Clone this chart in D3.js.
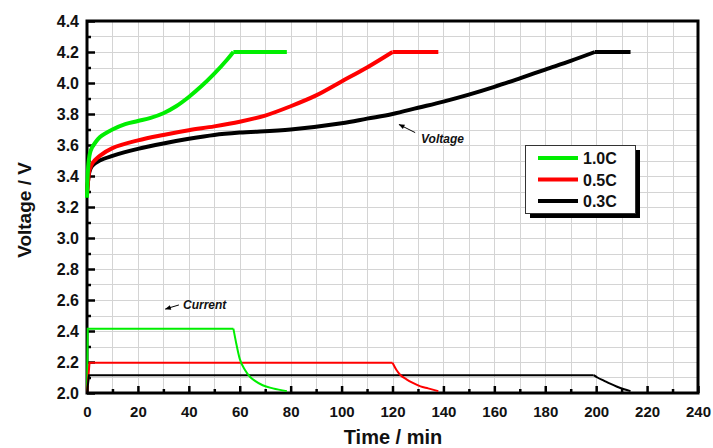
<!DOCTYPE html>
<meta charset="utf-8">
<style>
body { margin: 0; background: #fff; }
text { font-family: "Liberation Sans", Arial, sans-serif; font-weight: bold; fill: #111; }
.grid line { stroke: #d4d4d4; stroke-width: 1; shape-rendering: crispEdges; }
</style>
<body></body>
<script src="https://cdnjs.cloudflare.com/ajax/libs/d3/7.8.5/d3.min.js"></script>
<script>
// charge curves: time (min) vs voltage (V); current traces are drawn on the same voltage axis
var series = ["1.0C", "0.5C", "0.3C"];
var colors = ["#00ee00", "#ff0000", "#000000"];

// constant-current part (smooth) + constant-voltage plateau
var voltage10 = [[0,3.26],[0.3,3.42],[0.7,3.5],[1.2,3.55],[2,3.585],[3,3.61],[5,3.65],[10,3.70],[15,3.735],[20,3.755],[25,3.775],[30,3.805],[35,3.85],[40,3.91],[45,3.98],[50,4.06],[55,4.15],[57.5,4.2]];
var plateau10 = [[57.5,4.2],[78.5,4.2]];
var voltage05 = [[0,3.28],[0.5,3.38],[1,3.44],[2,3.48],[3,3.5],[5,3.53],[10,3.58],[20,3.63],[30,3.665],[40,3.695],[50,3.72],[60,3.75],[70,3.79],[80,3.85],[90,3.92],[100,4.01],[110,4.10],[120,4.2]];
var plateau05 = [[120,4.2],[138,4.2]];
var voltage03 = [[0,3.28],[0.5,3.38],[1,3.43],[2,3.465],[5,3.5],[10,3.53],[20,3.575],[30,3.61],[40,3.64],[50,3.665],[60,3.68],[80,3.70],[100,3.74],[110,3.77],[120,3.80],[130,3.84],[140,3.88],[150,3.925],[160,3.975],[170,4.03],[180,4.087],[190,4.143],[199.5,4.2]];
var plateau03 = [[199.5,4.2],[213.5,4.2]];

var current10 = [[0,2.0],[0.3,2.415],[57.5,2.415]];
var decay10 = [[57.5,2.415],[58.5,2.33],[60,2.22],[62,2.15],[64,2.105],[66,2.078],[69,2.05],[73,2.03],[78.5,2.012]];
var current05 = [[0,2.0],[1,2.195],[120,2.195]];
var decay05 = [[120,2.195],[121.5,2.15],[123,2.118],[125.5,2.088],[128,2.065],[131,2.043],[134,2.03],[138,2.012]];
var current03 = [[0,2.0],[0.8,2.115],[199,2.115]];
var decay03 = [[199,2.115],[200.5,2.1],[203,2.08],[205.5,2.06],[208,2.042],[211,2.024],[213.5,2.012]];

var width = 713, height = 448;
var x = d3.scaleLinear().domain([0, 240]).range([87, 698]);
var y = d3.scaleLinear().domain([2.0, 4.4]).range([393, 21]);

var svg = d3.select("body").append("svg")
    .attr("width", width)
    .attr("height", height);

// grid every 10 min / 0.1 V
var grid = svg.append("g").attr("class", "grid");
grid.selectAll(".gx").data(d3.range(10, 240, 10)).enter().append("line")
    .attr("x1", function(d) { return Math.round(x(d)) + 0.5; })
    .attr("x2", function(d) { return Math.round(x(d)) + 0.5; })
    .attr("y1", y(2.0)).attr("y2", y(4.4));
grid.selectAll(".gy").data(d3.range(1, 24)).enter().append("line")
    .attr("x1", x(0)).attr("x2", x(240))
    .attr("y1", function(d) { return Math.round(y(2.0 + d * 0.1)) + 0.5; })
    .attr("y2", function(d) { return Math.round(y(2.0 + d * 0.1)) + 0.5; });

// frame
svg.append("rect")
    .attr("x", x(0)).attr("y", y(4.4))
    .attr("width", x(240) - x(0)).attr("height", y(2.0) - y(4.4))
    .attr("fill", "none").attr("stroke", "#000").attr("stroke-width", 3);

// inward ticks
var xAxis = d3.axisBottom(x).tickValues(d3.range(0, 241, 10))
    .tickSize(-7).tickFormat(function(d) { return d % 20 === 0 ? d : ""; });
var gx = svg.append("g").attr("transform", "translate(0," + y(2.0) + ")").call(xAxis);
gx.select(".domain").remove();
gx.selectAll(".tick line").attr("stroke", "#000").attr("stroke-width", 2.5)
    .attr("y2", function(d) { return d % 20 === 0 ? -7 : -4; });
gx.selectAll(".tick text").attr("y", 13).attr("dy", "0.71em")
    .style("font-size", "15px").style("font-family", "Liberation Sans, Arial, sans-serif").style("font-weight", "bold").attr("fill", "#111");

var yAxis = d3.axisLeft(y).tickValues(d3.range(0, 25).map(function(i) { return 2.0 + i * 0.1; }))
    .tickSize(-8).tickFormat(function(d, i) { return i % 2 === 0 ? d3.format(".1f")(d) : ""; });
var gy = svg.append("g").attr("transform", "translate(" + x(0) + ",0)").call(yAxis);
gy.select(".domain").remove();
gy.selectAll(".tick line").attr("stroke", "#000").attr("stroke-width", 2.5)
    .attr("x2", function(d, i) { return i % 2 === 0 ? 8 : 4; });
gy.selectAll(".tick text").attr("x", -8)
    .style("font-size", "16px").style("font-family", "Liberation Sans, Arial, sans-serif").style("font-weight", "bold").attr("fill", "#111");

// curves
var smooth = d3.line()
    .x(function(d) { return x(d[0]); })
    .y(function(d) { return y(d[1]); })
    .curve(d3.curveMonotoneX);
var rounded = d3.line()
    .x(function(d) { return x(d[0]); })
    .y(function(d) { return y(d[1]); })
    .curve(d3.curveCatmullRom.alpha(0.5));
var straight = d3.line()
    .x(function(d) { return x(d[0]); })
    .y(function(d) { return y(d[1]); });

var cur = svg.append("g").attr("fill", "none").attr("stroke-width", 2);
[current10, current05, current03].forEach(function(d, i) {
  cur.append("path").attr("d", straight(d)).attr("stroke", colors[i]);
});
[decay10, decay05, decay03].forEach(function(d, i) {
  cur.append("path").attr("d", smooth(d)).attr("stroke", colors[i]);
});

var volt = svg.append("g").attr("fill", "none").attr("stroke-width", 4)
    .attr("stroke-linejoin", "round");
[[voltage03, plateau03, 2], [voltage05, plateau05, 1], [voltage10, plateau10, 0]].forEach(function(s) {
  volt.append("path").attr("d", rounded(s[0])).attr("stroke", colors[s[2]]);
  volt.append("path").attr("d", straight(s[1])).attr("stroke", colors[s[2]]);
});

// annotations
var defs = svg.append("defs");
defs.append("marker").attr("id", "arr")
    .attr("viewBox", "0 0 10 10").attr("refX", 9).attr("refY", 5)
    .attr("markerWidth", 7).attr("markerHeight", 6).attr("orient", "auto")
  .append("path").attr("d", "M0,1 L10,5 L0,9 Z").attr("fill", "#000");

svg.append("line")
    .attr("x1", x(128.9)).attr("y1", y(3.68)).attr("x2", x(122.6)).attr("y2", y(3.732))
    .attr("stroke", "#000").attr("stroke-width", 1).attr("marker-end", "url(#arr)");
svg.append("text").attr("x", x(131.2)).attr("y", y(3.61))
    .style("font-size", "12px").style("font-style", "italic").text("Voltage");

svg.append("line")
    .attr("x1", x(36.1)).attr("y1", y(2.568)).attr("x2", x(30.8)).attr("y2", y(2.542))
    .attr("stroke", "#000").attr("stroke-width", 1).attr("marker-end", "url(#arr)");
svg.append("text").attr("x", x(37.7)).attr("y", y(2.542))
    .style("font-size", "12px").style("font-style", "italic").text("Current");

// axis titles
svg.append("text").attr("x", 393).attr("y", 444)
    .attr("text-anchor", "middle").style("font-size", "20px").text("Time / min");
svg.append("text").attr("transform", "translate(31,210) rotate(-90)")
    .attr("text-anchor", "middle").style("font-size", "19px").text("Voltage / V");

// legend
var lg = svg.append("g").attr("transform", "translate(525,145)");
lg.append("rect").attr("x", 5).attr("y", 5).attr("width", 110).attr("height", 68).attr("fill", "#000");
lg.append("rect").attr("x", 0.5).attr("y", 0.5).attr("width", 110).attr("height", 68)
    .attr("fill", "#fff").attr("stroke", "#333").attr("stroke-width", 1);
var items = lg.selectAll(".item").data(series).enter().append("g")
    .attr("transform", function(d, i) { return "translate(0," + (13 + i * 21.5) + ")"; });
items.append("line").attr("x1", 13).attr("x2", 53).attr("y1", 0).attr("y2", 0)
    .attr("stroke", function(d, i) { return colors[i]; }).attr("stroke-width", 4);
items.append("text").attr("x", 58).attr("y", 6).style("font-size", "16px").text(function(d) { return d; });
</script>
